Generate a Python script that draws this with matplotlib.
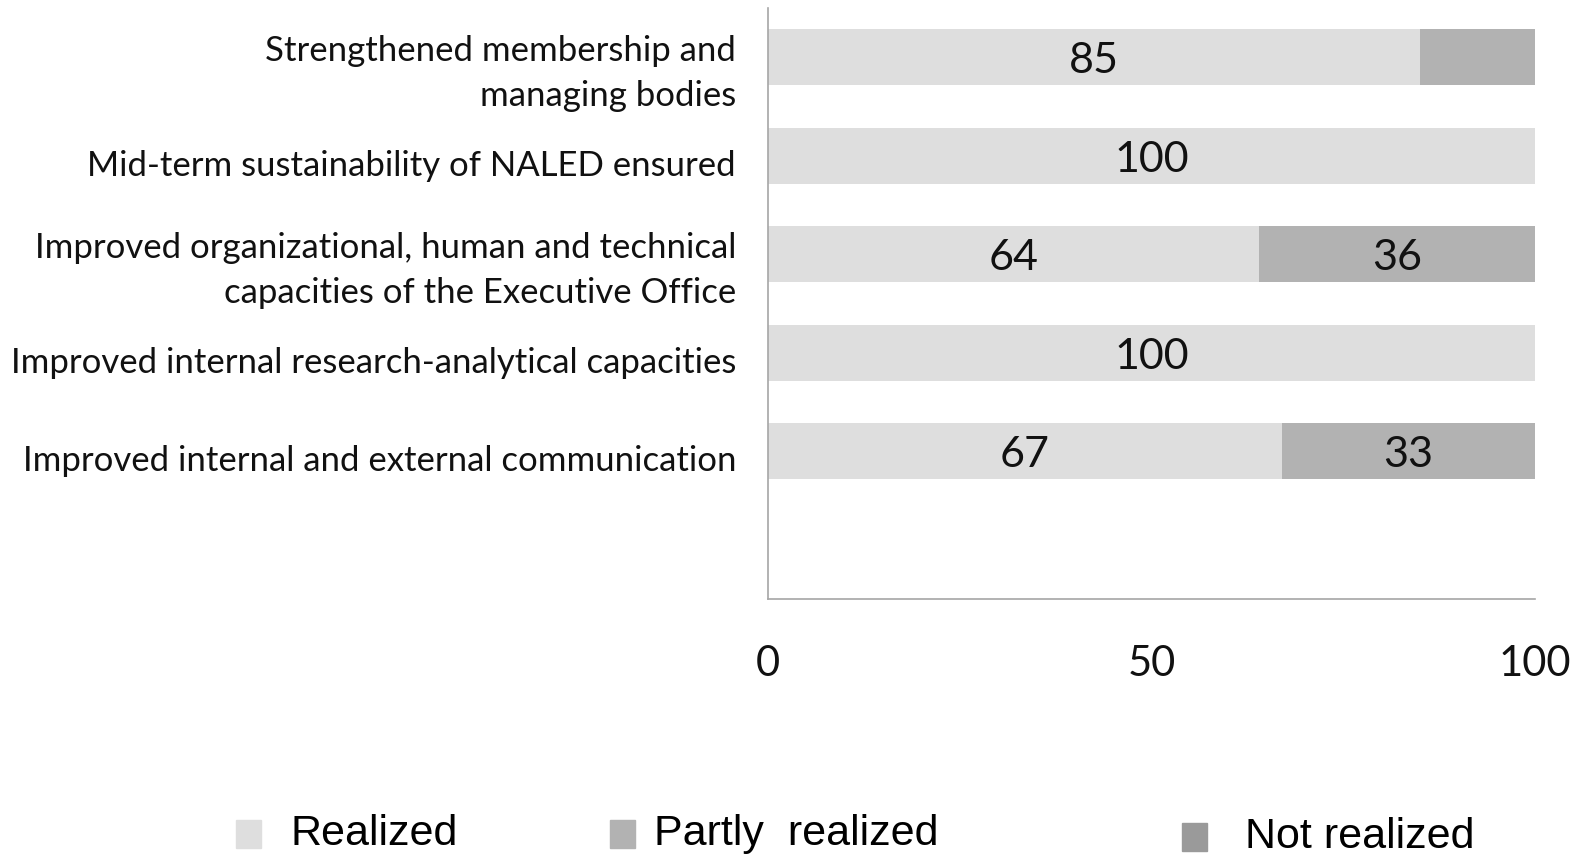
import matplotlib
matplotlib.use("Agg")
import matplotlib.pyplot as plt
from matplotlib.patches import Rectangle
from matplotlib.transforms import ScaledTranslation

categories = [
    "Strengthened membership and\nmanaging bodies",
    "Mid-term sustainability of NALED ensured",
    "Improved organizational, human and technical\ncapacities of the Executive Office",
    "Improved internal research-analytical capacities",
    "Improved internal and external communication",
]
realized = [85, 100, 64, 100, 67]
partly = [15, 0, 36, 0, 33]
not_realized = [0, 0, 0, 0, 0]
show_partly_label = [False, False, True, False, True]
ticks = [0, 50, 100]
legend_labels = ["Realized", "Partly  realized", "Not realized"]

c_real = "#dedede"
c_part = "#b2b2b2"
c_not = "#9a9a9a"

W, H = 1583, 855
fig = plt.figure(figsize=(W / 100, H / 100), dpi=100)
ax = fig.add_axes([768 / W, 1 - 599 / H, (1535 - 768) / W, (599 - 8) / H])

font = "Lato"
ypos = list(range(len(categories)))
ax.barh(ypos, realized, height=0.57, color=c_real, edgecolor="none")
ax.barh(ypos, partly, left=realized, height=0.57, color=c_part, edgecolor="none")
ax.barh(ypos, not_realized, left=[r + p for r, p in zip(realized, partly)],
        height=0.57, color=c_not, edgecolor="none")

for y, r, p, sp in zip(ypos, realized, partly, show_partly_label):
    ax.text(r / 2, y + 0.04, f"{r}", ha="center", va="center", fontsize=31, family=font, color="#111111")
    if sp:
        ax.text(r + p / 2, y + 0.04, f"{p}", ha="center", va="center", fontsize=31, family=font, color="#111111")

ax.set_ylim(5.5, -0.5)
ax.set_xlim(0, 100)
ax.set_yticks(ypos)
ax.set_yticklabels(categories, fontsize=25, family=font, color="#111111", linespacing=1.5)
ax.set_xticks(ticks)
ax.set_xticklabels([str(t) for t in ticks], fontsize=30, family=font, color="#111111")
ax.tick_params(axis="y", length=0, pad=23)
ax.tick_params(axis="x", length=0, pad=33)
shift = ScaledTranslation(0, -7 / 100, fig.dpi_scale_trans)
for lab in ax.get_yticklabels():
    lab.set_transform(lab.get_transform() + shift)
for s in ["top", "right"]:
    ax.spines[s].set_visible(False)
for s in ["left", "bottom"]:
    ax.spines[s].set_color("#a6a6a6")
    ax.spines[s].set_linewidth(1.2)

# legend
items = [(236, 291, 834, c_real), (610, 654, 834, c_part), (1182, 1245, 837, c_not)]
for (sx, tx, cy, col), lab in zip(items, legend_labels):
    fig.patches.append(Rectangle((sx / W, 1 - (cy + 14) / H), 25 / W, 28 / H,
                                 transform=fig.transFigure, color=col))
    fig.text(tx / W, 1 - cy / H, lab, ha="left", va="center", fontsize=31,
             family=["Liberation Sans Narrow", "Liberation Sans"], color="#000000")

fig.savefig("out.png", dpi=100)
